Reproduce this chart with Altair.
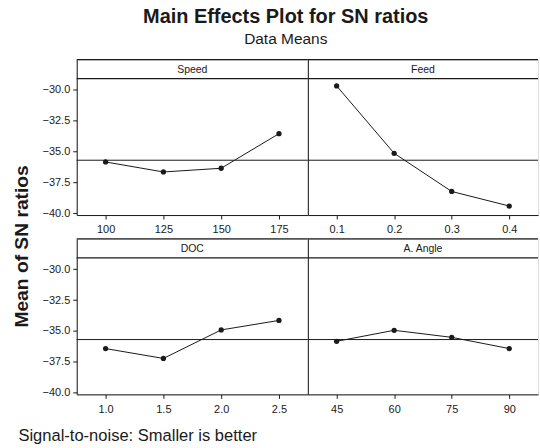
import altair as alt
import pandas as pd

# ---- data ----
speed_levels = ["100", "125", "150", "175"]
speed_sn = [-35.84, -36.65, -36.35, -33.55]

feed_levels = ["0.1", "0.2", "0.3", "0.4"]
feed_sn = [-29.68, -35.14, -38.23, -39.41]

doc_levels = ["1.0", "1.5", "2.0", "2.5"]
doc_sn = [-36.43, -37.23, -34.92, -34.15]

angle_levels = ["45", "60", "75", "90"]
angle_sn = [-35.84, -34.95, -35.52, -36.43]

grand_mean = -35.7
y_ticks = [-40.0, -37.5, -35.0, -32.5, -30.0]

# ---- style ----
Y_DOMAIN = [-40.14, -27.55]
PANEL_H = 156
HEADER_H = 19
INK = "#1a1a1a"
FONT = "Liberation Sans"


def panel(name, levels, values, width, left_axis, y_title=None, x_title=None):
    df = pd.DataFrame({"level": levels, "sn": values})
    one = pd.DataFrame({"label": [name]})
    mean_df = pd.DataFrame({"sn": [grand_mean]})

    if left_axis:
        kw = dict(
            values=y_ticks, format=".1f", grid=False, domain=True, domainColor=INK,
            ticks=True, tickSize=4, tickColor=INK, labelFont=FONT, labelFontSize=11,
            labelColor=INK, labelPadding=3, labelOverlap=False,
        )
        if y_title:
            kw.update(title=y_title, titleFont=FONT, titleFontSize=19.3,
                      titleFontWeight="bold", titleAngle=270, titleAlign="center",
                      titleBaseline="middle", titleX=-55, titleY=187, titleColor=INK)
        else:
            kw.update(title=None)
        y_axis = alt.Axis(**kw)
    else:
        y_axis = alt.Axis(values=y_ticks, grid=False, domain=True, domainColor=INK,
                          ticks=False, labels=False, title=None)

    x_axis_kw = dict(
        grid=False, domain=True, domainColor=INK, ticks=True, tickSize=4,
        tickColor=INK, labelAngle=0, labelFont=FONT, labelFontSize=11,
        labelColor=INK, labelPadding=5, labelOverlap=False,
    )
    if x_title:
        x_axis_kw.update(title=x_title, titleFont=FONT, titleFontSize=16.6,
                         titleFontWeight="normal", titleColor=INK, titleAlign="left",
                         titleBaseline="alphabetic", titleX=-59, titleY=46)
    else:
        x_axis_kw.update(title=None)

    x = alt.X("level:O", sort=levels, scale=alt.Scale(type="point", padding=0.5),
              axis=alt.Axis(**x_axis_kw))
    y = alt.Y("sn:Q", scale=alt.Scale(domain=Y_DOMAIN, nice=False, zero=False),
              axis=y_axis)

    line = alt.Chart(df).mark_line(color=INK, strokeWidth=1).encode(x=x, y=y)
    pts = alt.Chart(df).mark_circle(color=INK, size=28, opacity=1).encode(x=x, y=y)
    mean = alt.Chart(mean_df).mark_rule(color=INK, strokeWidth=1).encode(y=y)
    top = alt.Chart(one).mark_rule(color=INK, strokeWidth=1.2).encode(
        x=alt.value(0), x2=alt.value(width), y=alt.value(0))
    hdr = alt.Chart(one).mark_rule(color=INK, strokeWidth=1.2).encode(
        x=alt.value(0), x2=alt.value(width), y=alt.value(HEADER_H))
    lab = alt.Chart(one).mark_text(font=FONT, fontSize=10.5, color=INK,
                                   baseline="middle", align="center").encode(
        x=alt.value(width / 2), y=alt.value(HEADER_H / 2 + 0.5), text="label:N")

    return alt.layer(line, pts, mean, top, hdr, lab).properties(
        width=width, height=PANEL_H)


p1 = panel("Speed", speed_levels, speed_sn, 232, True, y_title="Mean of SN ratios")
p2 = panel("Feed", feed_levels, feed_sn, 231, False)
p3 = panel("DOC", doc_levels, doc_sn, 232, True,
           x_title="Signal-to-noise: Smaller is better")
p4 = panel("A. Angle", angle_levels, angle_sn, 231, False)

chart = alt.ConcatChart(
    concat=[p1, p2, p3, p4], columns=2,
    spacing=alt.RowColnumber(row=24, column=0), bounds="flush",
).resolve_scale(
    x="independent", y="independent"
).properties(
    title=alt.TitleParams(
        text="Main Effects Plot for SN ratios",
        subtitle="Data Means",
        font=FONT, fontSize=20, fontWeight="bold", color=INK,
        subtitleFont=FONT, subtitleFontSize=15.5, subtitleColor=INK,
        subtitlePadding=5, anchor="middle", offset=11, dx=10,
    ),
    padding={"left": 12, "top": 6, "right": 0, "bottom": 5},
).configure_view(stroke=None).configure(background="white")

chart.save("out.html", embed_options={"renderer": "svg", "actions": False})
